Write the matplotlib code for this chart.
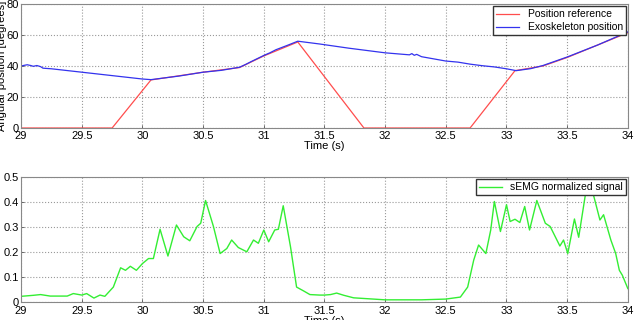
import matplotlib.pyplot as plt

# position data (degrees)
ref_t = [29.0, 29.75, 30.07, 30.5, 30.8, 31.0, 31.28, 31.825, 32.70, 33.07, 33.3, 33.5, 33.75, 34.0]
ref_y = [0, 0, 31, 36, 39, 46.5, 55.5, 0, 0, 37, 40, 45.5, 53.5, 61.5]

exo_t = [29.0, 29.03, 29.05, 29.08, 29.1, 29.13, 29.16, 29.18, 29.25, 29.5, 29.75, 30.0, 30.07,
         30.3, 30.5, 30.65, 30.8, 30.85, 30.9, 31.0, 31.05, 31.1, 31.2, 31.28, 31.3, 31.46,
         31.7, 32.0, 32.2, 32.22, 32.24, 32.26, 32.3, 32.5, 32.6, 32.7, 32.8, 32.9, 33.0,
         33.08, 33.2, 33.3, 33.5, 33.75, 34.0]
exo_y = [40, 40.5, 40.8, 40.3, 39.8, 40.3, 39.6, 38.6, 38.2, 36.0, 33.8, 31.6, 31.2,
         33.5, 36, 37.2, 39.2, 41, 43, 46.8, 48.5, 50.5, 53.5, 56.0, 55.8, 54.2,
         51.5, 48.5, 47.2, 48.0, 46.9, 47.5, 46, 43.2, 42.5, 41.2, 40.2, 39.4, 38.2,
         37.0, 38.3, 40.3, 45.8, 53.5, 62]

# sEMG normalized signal
emg_t = [29.0, 29.1, 29.16, 29.24, 29.38, 29.43, 29.5, 29.54, 29.6, 29.65, 29.69, 29.76,
         29.82, 29.86, 29.9, 29.95, 30.0, 30.05, 30.09, 30.145, 30.21, 30.28, 30.34, 30.39,
         30.45, 30.48, 30.52, 30.585, 30.64, 30.695, 30.735, 30.79, 30.86, 30.915, 30.955,
         31.0, 31.04, 31.09, 31.12, 31.16, 31.22, 31.27, 31.33, 31.38, 31.46, 31.5, 31.55,
         31.6, 31.66, 31.74, 32.0, 32.3, 32.5, 32.62, 32.68, 32.73, 32.77, 32.83, 32.87,
         32.90, 32.95, 33.0, 33.03, 33.07, 33.11, 33.15, 33.19, 33.25, 33.32, 33.36, 33.44,
         33.47, 33.505, 33.56, 33.595, 33.65, 33.70, 33.72, 33.77, 33.80, 33.86, 33.90,
         33.93, 33.955, 34.0]
emg_y = [0.023, 0.027, 0.030, 0.024, 0.024, 0.034, 0.028, 0.034, 0.016, 0.028, 0.023, 0.06,
         0.137, 0.127, 0.143, 0.127, 0.154, 0.174, 0.174, 0.291, 0.184, 0.308, 0.261, 0.245,
         0.302, 0.315, 0.406, 0.302, 0.194, 0.214, 0.248, 0.218, 0.201, 0.248, 0.235,
         0.288, 0.241, 0.288, 0.291, 0.385, 0.221, 0.06, 0.044, 0.030, 0.028, 0.028, 0.030,
         0.036, 0.027, 0.017, 0.009, 0.009, 0.012, 0.020, 0.06, 0.168, 0.228, 0.194, 0.288,
         0.402, 0.282, 0.389, 0.322, 0.331, 0.318, 0.382, 0.288, 0.406, 0.315, 0.302, 0.224,
         0.248, 0.194, 0.332, 0.259, 0.429, 0.442, 0.422, 0.328, 0.349, 0.248, 0.194,
         0.127, 0.107, 0.054]

xticks = [29, 29.5, 30, 30.5, 31, 31.5, 32, 32.5, 33, 33.5, 34]

plt.rcParams['font.family'] = ['Liberation Sans', 'DejaVu Sans']
plt.rcParams['font.size'] = 8

fig = plt.figure(figsize=(6.4, 3.2), dpi=100)
ax1 = fig.add_axes([0.033, 0.6, 0.948, 0.3875])
ax2 = fig.add_axes([0.033, 0.056, 0.948, 0.391])


def style(ax):
    ax.set_xlim(29, 34)
    ax.set_xticks(xticks)
    ax.set_xticklabels(['%g' % v for v in xticks])
    ax.grid(True, linestyle=':', color='#999999', linewidth=0.8)
    for s in ax.spines.values():
        s.set_color('#888888')
        s.set_linewidth(0.8)
    ax.tick_params(length=2, width=0.6, direction='in', color='#555555')
    ax.tick_params(axis='x', pad=2.5)
    ax.tick_params(axis='y', pad=1.5)
    ax.set_xlabel('Time (s)', labelpad=0)


ax1.plot(ref_t, ref_y, color='#ff4d4d', lw=0.9, label='Position reference')
ax1.plot(exo_t, exo_y, color='#3333ee', lw=0.9, label='Exoskeleton position')
ax1.set_ylim(0, 80)
ax1.set_yticks([0, 20, 40, 60, 80])
ax1.set_ylabel('Angular position [degrees]', labelpad=0)
style(ax1)
ax1.legend(loc='upper right', fontsize=7.5, fancybox=False, edgecolor='#333333',
           framealpha=1, borderpad=0.3, handlelength=2.2, labelspacing=0.3,
           borderaxespad=0.2)

ax2.plot(emg_t, emg_y, color='#33ee33', lw=1.0, label='sEMG normalized signal')
ax2.set_ylim(0, 0.5)
ax2.set_yticks([0, 0.1, 0.2, 0.3, 0.4, 0.5])
ax2.set_yticklabels(['0', '0.1', '0.2', '0.3', '0.4', '0.5'])
style(ax2)
ax2.legend(loc='upper right', fontsize=7.5, fancybox=False, edgecolor='#333333',
           framealpha=1, borderpad=0.3, handlelength=2.2, borderaxespad=0.2)

fig.savefig('out.png', dpi=100)
